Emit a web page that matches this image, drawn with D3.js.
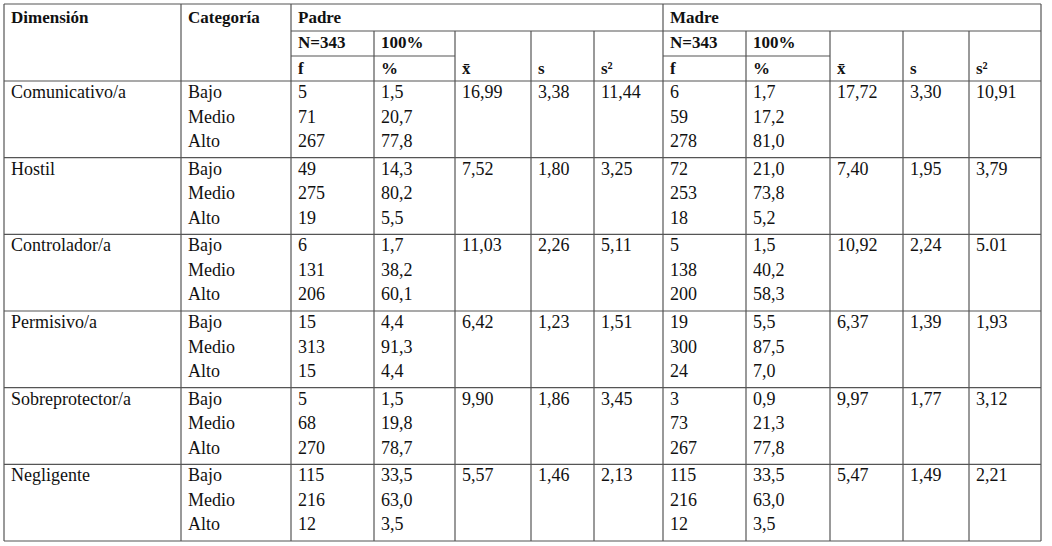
<!DOCTYPE html>
<html lang="es">
<head>
<meta charset="utf-8">
<script src="https://d3js.org/d3.v7.min.js"></script>
<style>
  body { margin: 0; background: #fff; }
  text { font-family: "Liberation Serif", serif; fill: #111; }
  .hd { font-weight: bold; font-size: 17px; }
  .cell { font-size: 18px; }
  line { stroke: #555; stroke-width: 1.2; }
</style>
</head>
<body>
<div id="chart"></div>
<script>
"use strict"

var dimensiones = ["Comunicativo/a", "Hostil", "Controlador/a", "Permisivo/a", "Sobreprotector/a", "Negligente"];
var categorias = ["Bajo", "Medio", "Alto"];
var padreF = [["5","71","267"],["49","275","19"],["6","131","206"],["15","313","15"],["5","68","270"],["115","216","12"]];
var padreP = [["1,5","20,7","77,8"],["14,3","80,2","5,5"],["1,7","38,2","60,1"],["4,4","91,3","4,4"],["1,5","19,8","78,7"],["33,5","63,0","3,5"]];
var padreStats = [["16,99","3,38","11,44"],["7,52","1,80","3,25"],["11,03","2,26","5,11"],["6,42","1,23","1,51"],["9,90","1,86","3,45"],["5,57","1,46","2,13"]];
var madreF = [["6","59","278"],["72","253","18"],["5","138","200"],["19","300","24"],["3","73","267"],["115","216","12"]];
var madreP = [["1,7","17,2","81,0"],["21,0","73,8","5,2"],["1,5","40,2","58,3"],["5,5","87,5","7,0"],["0,9","21,3","77,8"],["33,5","63,0","3,5"]];
var madreStats = [["17,72","3,30","10,91"],["7,40","1,95","3,79"],["10,92","2,24","5.01"],["6,37","1,39","1,93"],["9,97","1,77","3,12"],["5,47","1,49","2,21"]];

var cols = [4, 181, 291, 374, 455, 531, 594, 663, 746, 830, 903, 969, 1041];
var yTop = 4, h1 = 31, h2 = 56, h3 = 81, yBottom = 541;

var svg = d3.select("#chart").append("svg").attr("width", 1052).attr("height", 546);

var y = d3.scaleBand().domain(dimensiones).range([h3, yBottom]);
var sub = d3.scaleLinear().domain([0, 2]).range([17, 66]);

function ln(x1, y1, x2, y2) {
  svg.append("line").attr("x1", x1).attr("y1", y1).attr("x2", x2).attr("y2", y2);
}
function tx(x, yy, s, cls) {
  svg.append("text").attr("x", x + 7).attr("y", yy).attr("class", cls).text(s);
}

// bordes
ln(cols[0], yTop, cols[12], yTop);
ln(cols[2], h1, cols[12], h1);
ln(cols[2], h2, cols[4], h2);
ln(cols[7], h2, cols[9], h2);
dimensiones.forEach(function(d) { ln(cols[0], y(d), cols[12], y(d)); });
ln(cols[0], yBottom, cols[12], yBottom);
[0, 1, 2, 7, 12].forEach(function(i) { ln(cols[i], yTop, cols[i], yBottom); });
[3, 4, 5, 6, 8, 9, 10, 11].forEach(function(i) { ln(cols[i], h1, cols[i], yBottom); });

// cabecera
tx(cols[0], 23, "Dimensión", "hd");
tx(cols[1], 23, "Categoría", "hd");
tx(cols[2], 23, "Padre", "hd");
tx(cols[7], 23, "Madre", "hd");
[2, 7].forEach(function(i) {
  tx(cols[i], 48, "N=343", "hd");
  tx(cols[i + 1], 48, "100%", "hd");
  tx(cols[i], 74, "f", "hd");
  tx(cols[i + 1], 74, "%", "hd");
  tx(cols[i + 2], 74, "x̄", "hd");
  tx(cols[i + 3], 74, "s", "hd");
  tx(cols[i + 4], 74, "s²", "hd");
});

// datos
dimensiones.forEach(function(d, i) {
  var y0 = y(d);
  tx(cols[0], y0 + sub(0), d, "cell");
  categorias.forEach(function(c, j) {
    tx(cols[1], y0 + sub(j), c, "cell");
    tx(cols[2], y0 + sub(j), padreF[i][j], "cell");
    tx(cols[3], y0 + sub(j), padreP[i][j], "cell");
    tx(cols[7], y0 + sub(j), madreF[i][j], "cell");
    tx(cols[8], y0 + sub(j), madreP[i][j], "cell");
  });
  padreStats[i].forEach(function(v, k) { tx(cols[4 + k], y0 + sub(0), v, "cell"); });
  madreStats[i].forEach(function(v, k) { tx(cols[9 + k], y0 + sub(0), v, "cell"); });
});
</script>
</body>
</html>
